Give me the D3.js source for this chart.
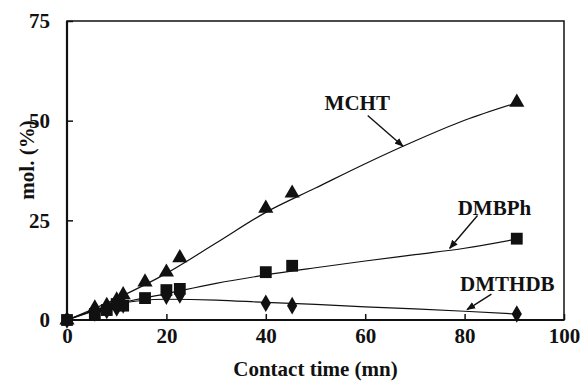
<!DOCTYPE html>
<html lang="en">
<head>
<meta charset="UTF-8" />
<title>Contact time chart</title>
<script src="https://d3js.org/d3.v7.min.js"></script>
<style>
  body { margin: 0; background: #fff; }
</style>
</head>
<body>
<svg id="chart"></svg>
<script>
// measured points (contact time in mn, mol. %)
var times = [0, 5.6, 8, 10, 11.3, 15.7, 20, 22.7, 40, 45.3, 90.5];
var mcht = [0, 3.0, 3.6, 5.0, 6.3, 9.5, 12.0, 15.6, 28.0, 31.8, 54.6];
var dmbph = [0, 1.5, 2.5, 4.0, 3.6, 5.5, 7.5, 7.8, 12.0, 13.6, 20.4];
var dmthdbTimes = [0, 5.6, 8, 10, 11.3, 20, 22.7, 40, 45.3, 90.5];
var dmthdb = [0, 1.8, 2.4, 3.0, 3.8, 6.0, 6.3, 4.2, 3.6, 1.5];

// fitted curves
var fitTimes = [0, 10, 20, 30, 40, 50, 60, 70, 80, 90.5];
var mchtFit = [0, 5.4, 11.7, 19.3, 27.0, 33.1, 39.2, 44.9, 50.1, 54.5];
var dmbphFit = [0, 4.0, 6.6, 9.2, 11.3, 13.1, 14.8, 16.4, 18.0, 20.3];
var dmthdbFit = [0, 4.0, 5.2, 5.0, 4.4, 3.9, 3.3, 2.8, 2.2, 1.5];

var xTicks = [0, 20, 40, 60, 80, 100];
var yTicks = [0, 25, 50, 75];

// labels: [text, x, y baseline, arrow start x, y, arrow tip x, y]
var labels = [
  ["MCHT", 58.4, 52.6, 60.5, 51.3, 67.6, 43.6],
  ["DMBPh", 86, 26.4, 82.6, 26.2, 77, 18],
  ["DMTHDB", 88.6, 7.3, 85.4, 6.5, 80.5, 2.6]
];

var W = 581, H = 383;
var margin = { left: 67, right: 17, top: 21, bottom: 63 };
var iw = W - margin.left - margin.right, ih = H - margin.top - margin.bottom;
var FONT = "'Liberation Serif', 'Times New Roman', serif";

var svg = d3.select("#chart").attr("width", W).attr("height", H);
var g = svg.append("g").attr("transform", `translate(${margin.left},${margin.top})`);

var x = d3.scaleLinear().domain([0, 100]).range([0, iw]);
var y = d3.scaleLinear().domain([0, 75]).range([ih, 0]);

// frame
g.append("rect").attr("x", 0).attr("y", 0).attr("width", iw).attr("height", ih)
  .attr("fill", "none").attr("stroke", "#111").attr("stroke-width", 1.5);
g.append("line").attr("x1", 0).attr("x2", 0).attr("y1", 0).attr("y2", ih)
  .attr("stroke", "#111").attr("stroke-width", 2.2);
g.append("line").attr("x1", 0).attr("x2", iw).attr("y1", ih).attr("y2", ih)
  .attr("stroke", "#111").attr("stroke-width", 2.2);

// axes, ticks pointing inward
var xAxis = g.append("g").attr("transform", `translate(0,${ih})`)
  .call(d3.axisBottom(x).tickValues(xTicks).tickSize(-6).tickPadding(14));
var yAxis = g.append("g")
  .call(d3.axisLeft(y).tickValues(yTicks).tickSize(-6).tickPadding(17));
[xAxis, yAxis].forEach(function (a) {
  a.attr("font-family", FONT).attr("font-size", 21).attr("font-weight", "bold");
  a.select(".domain").remove();
  a.selectAll("line").attr("stroke", "#111").attr("stroke-width", 1.5);
  a.selectAll("text").attr("fill", "#111");
});
xAxis.selectAll("text").attr("dy", "0.71em").attr("y", 8);

function label(sel) {
  return sel.append("text").attr("font-family", FONT).attr("font-weight", "bold")
    .attr("font-size", 21).attr("fill", "#111").attr("text-anchor", "middle");
}
label(svg).attr("x", margin.left + x(50)).attr("y", 376).text("Contact time (mn)");
label(svg).attr("transform", "translate(34,160) rotate(-90)").text("mol. (%)");

// fitted curves
var line = d3.line().x(function (d) { return x(d[0]); }).y(function (d) { return y(d[1]); })
  .curve(d3.curveMonotoneX);
[mchtFit, dmbphFit, dmthdbFit].forEach(function (s) {
  g.append("path").datum(fitTimes.map(function (t, i) { return [t, s[i]]; }))
    .attr("d", line).attr("fill", "none").attr("stroke", "#111").attr("stroke-width", 1.2);
});

// markers
var sym = [
  [d3.symbolTriangle, 100, times, mcht],
  [d3.symbolSquare, 140, times, dmbph],
  [d3.symbolDiamond, 90, dmthdbTimes, dmthdb]
];
sym.forEach(function (s) {
  g.append("g").selectAll("path").data(s[2]).enter().append("path")
    .attr("transform", function (d, i) { return `translate(${x(d)},${y(s[3][i])})`; })
    .attr("d", d3.symbol().type(s[0]).size(s[1]))
    .attr("fill", "#111");
});

// annotation labels and arrows
svg.append("defs").append("marker").attr("id", "arr").attr("viewBox", "0 0 10 10")
  .attr("refX", 9).attr("refY", 5).attr("markerWidth", 9).attr("markerHeight", 9)
  .attr("markerUnits", "userSpaceOnUse").attr("orient", "auto")
  .append("path").attr("d", "M0,1 L10,5 L0,9 Z").attr("fill", "#111");

labels.forEach(function (l) {
  label(g).attr("x", x(l[1])).attr("y", y(l[2])).text(l[0]);
  g.append("line").attr("x1", x(l[3])).attr("y1", y(l[4]))
    .attr("x2", x(l[5])).attr("y2", y(l[6]))
    .attr("stroke", "#111").attr("stroke-width", 1.4).attr("marker-end", "url(#arr)");
});
</script>
</body>
</html>
